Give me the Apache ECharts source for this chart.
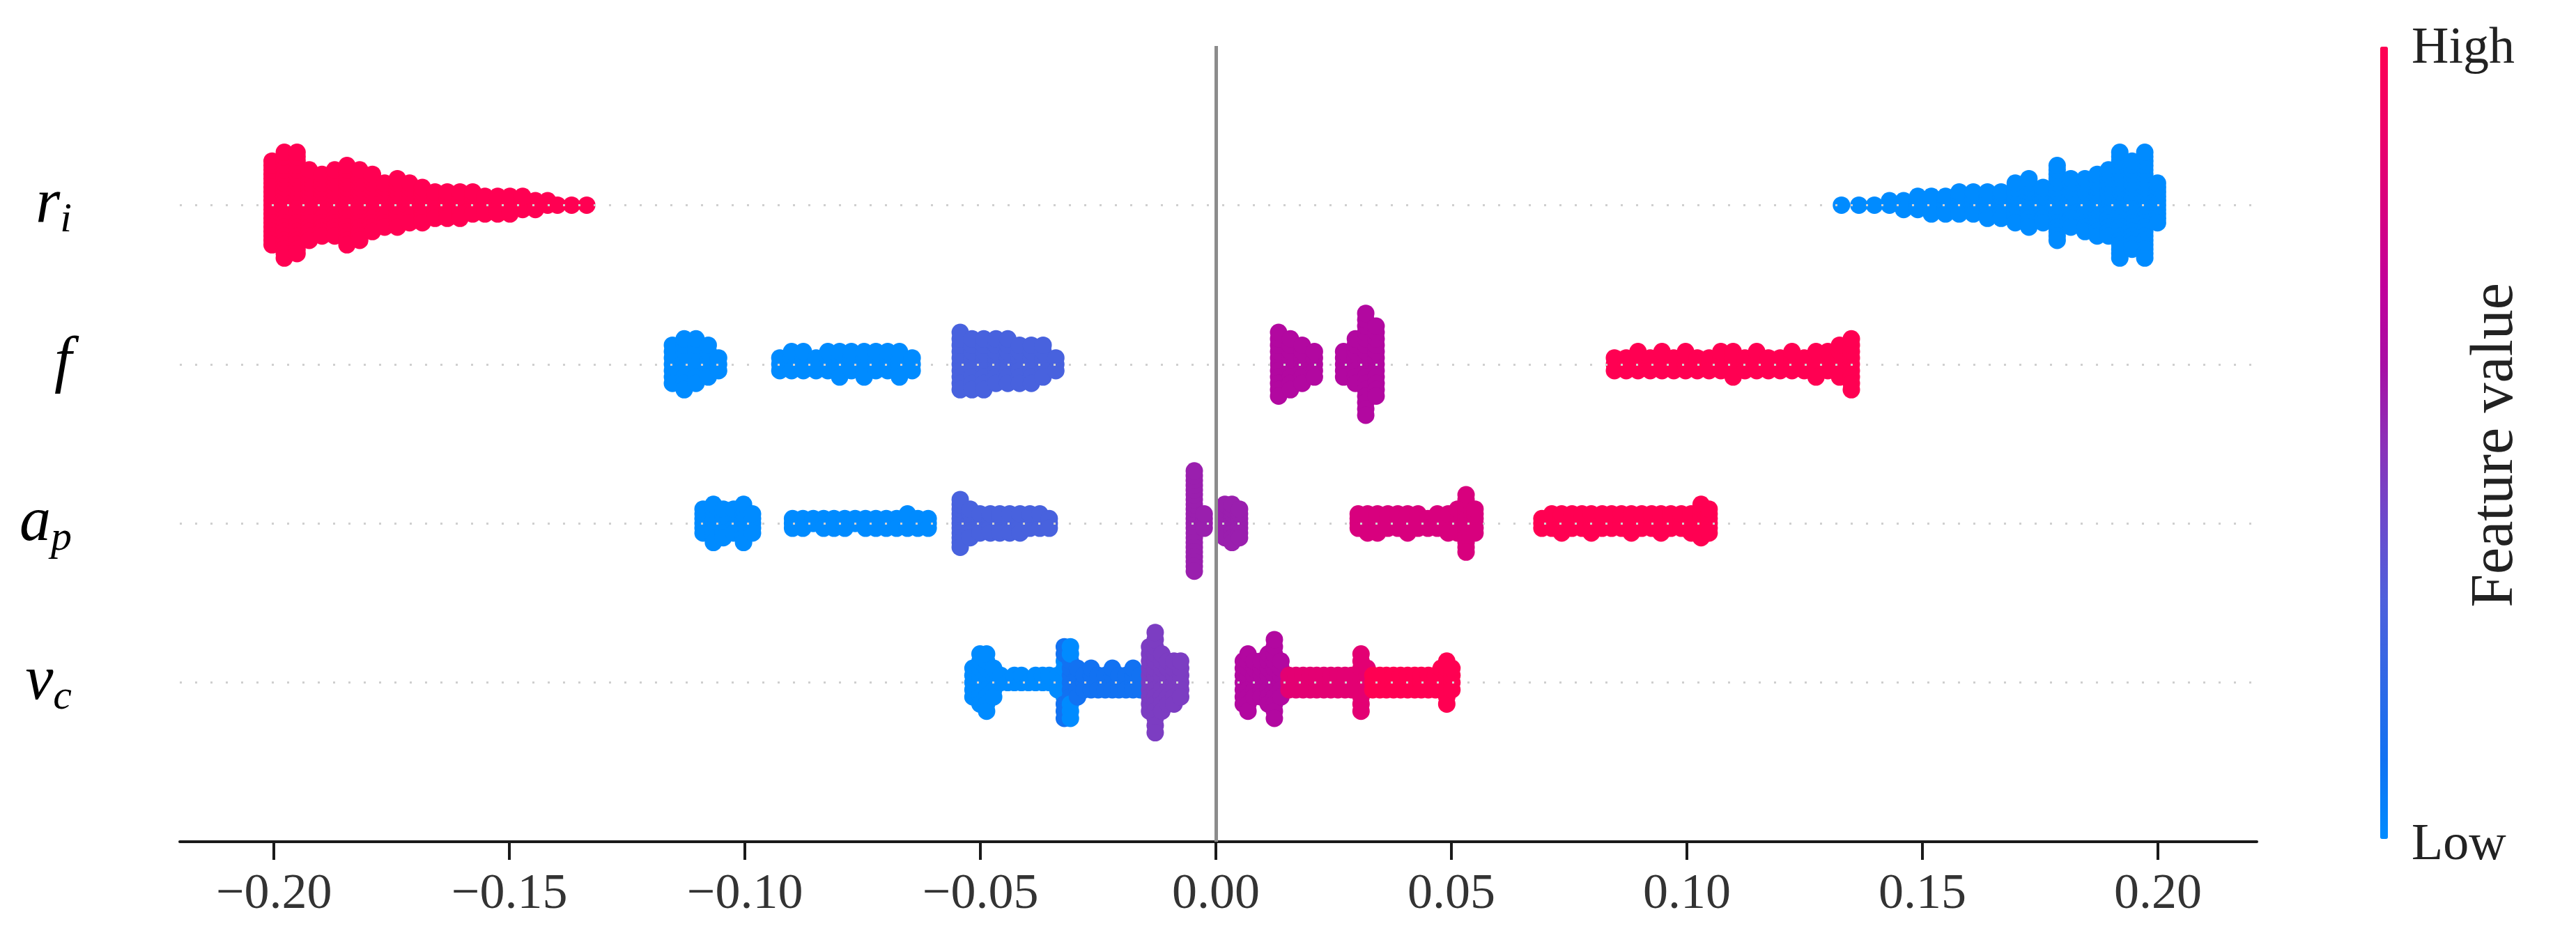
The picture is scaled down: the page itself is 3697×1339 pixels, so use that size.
<!DOCTYPE html>
<html>
<head>
<meta charset="utf-8">
<script src="https://cdn.jsdelivr.net/npm/echarts@6/dist/echarts.min.js"></script>
<style>
html,body{margin:0;padding:0;background:#fff;}
#chart{width:3697px;height:1339px;}
</style>
</head>
<body>
<div id="chart"></div>
<script>
// ---------------- DATA ----------------
// Row order on the y axis (value = row index): v_c=0, a_p=1, f=2, r_i=3
const featureLabels = ['{m|v}{s|c}', '{m|a}{s|p}', '{m|f}', '{m|r}{s|i}'];
const xTicks = [-0.20, -0.15, -0.10, -0.05, 0.00, 0.05, 0.10, 0.15, 0.20];

// r_i : SHAP value of each stacked column, number of samples in it, normalised feature value
const riShap = [-0.2004,-0.1978,-0.1951,-0.1925,-0.1898,-0.1871,-0.1845,-0.1818,-0.1791,-0.1765,-0.1738,-0.1712,-0.1685,-0.1658,-0.1632,-0.1605,-0.1578,-0.1552,-0.1525,-0.1499,-0.1472,-0.1445,-0.1419,-0.1398,-0.1368,-0.1336,
                0.1328,0.1365,0.1398,0.1430,0.1460,0.1490,0.1519,0.1549,0.1578,0.1608,0.1638,0.1667,0.1697,0.1726,0.1756,0.1786,0.1815,0.1845,0.1871,0.1895,0.1919,0.1945,0.1972,0.1999];
const riCount = [20,25,24,17,15,16,19,17,14,11,12,10,9,7,7,7,6,5,5,5,4,3,2,1,1,1,
                 1,1,1,2,3,4,5,5,6,6,7,7,10,12,9,18,12,13,15,16,25,21,25,10];
const riFeat  = [1,1,1,1,1,1,1,1,1,1,1,1,1,1,1,1,1,1,1,1,1,1,1,1,1,1,
                 0,0,0,0,0,0,0,0,0,0,0,0,0,0,0,0,0,0,0,0,0,0,0,0];

// f
const fShap = [-0.1154,-0.1129,-0.1104,-0.1078,-0.1056,
               -0.0926,-0.0901,-0.0876,-0.0849,-0.0824,-0.0799,-0.0774,-0.0747,-0.0722,-0.0697,-0.0672,-0.0645,
               -0.0543,-0.0518,-0.0493,-0.0467,-0.0442,-0.0417,-0.0392,-0.0367,-0.0340,
               0.0133,0.0158,0.0183,0.0209,
               0.0271,0.0296,0.0318,0.0340,
               0.0846,0.0871,0.0896,0.0922,0.0947,0.0972,0.0997,0.1022,0.1047,0.1072,0.1098,0.1123,0.1148,0.1173,0.1198,0.1223,0.1249,0.1274,0.1299,0.1324,0.1349];
const fCount = [7,9,8,6,3,
                3,4,4,3,4,5,4,5,4,4,5,3,
                10,9,9,8,8,7,7,6,3,
                11,9,7,5,
                5,8,17,12,
                3,3,4,3,4,3,4,3,3,4,5,3,4,3,3,4,3,5,4,6,9];
const fFeat = [0,0,0,0,0,
               0,0,0,0,0,0,0,0,0,0,0,0,
               0.28,0.28,0.28,0.28,0.28,0.28,0.28,0.28,0.28,
               0.64,0.64,0.64,0.64,
               0.64,0.64,0.64,0.64,
               1,1,1,1,1,1,1,1,1,1,1,1,1,1,1,1,1,1,1,1,1];

// a_p
const apShap = [-0.1089,-0.1067,-0.1046,-0.1024,-0.1003,-0.0984,
                -0.0899,-0.0877,-0.0855,-0.0833,-0.0811,-0.0788,-0.0766,-0.0744,-0.0722,-0.0700,-0.0678,-0.0655,-0.0633,-0.0611,
                -0.0543,-0.0522,-0.0501,-0.0479,-0.0459,-0.0438,-0.0416,-0.0395,-0.0374,-0.0354,
                -0.0046,-0.0025,0.0019,0.0034,0.0050,
                0.0302,0.0322,0.0343,0.0365,0.0386,0.0407,0.0429,0.0450,0.0470,0.0493,0.0513,0.0531,0.0550,
                0.0692,0.0713,0.0734,0.0756,0.0777,0.0797,0.0820,0.0840,0.0861,0.0882,0.0904,0.0925,0.0945,0.0966,0.0988,0.1009,0.1030,0.1047];
const apCount = [6,9,7,6,9,5,
                 3,3,2,3,3,3,2,3,3,3,3,4,3,3,
                 11,7,5,5,5,5,5,4,4,3,
                 22,4,8,9,7,
                 4,5,5,4,4,5,4,3,4,5,6,13,6,
                 3,4,5,4,4,5,4,4,4,5,4,4,5,4,4,5,8,6];
const apFeat = [0,0,0,0,0,0,
                0,0,0,0,0,0,0,0,0,0,0,0,0,0,
                0.28,0.28,0.28,0.28,0.28,0.28,0.28,0.28,0.28,0.28,
                0.55,0.55,0.55,0.55,0.55,
                0.8,0.8,0.8,0.8,0.8,0.8,0.8,0.8,0.8,0.8,0.8,0.8,0.8,
                1,1,1,1,1,1,1,1,1,1,1,1,1,1,1,1,1,1];

// v_c
const vcShap = [-0.0516,-0.0501,-0.0487,-0.0472,
                -0.0457,-0.0442,-0.0428,-0.0413,-0.0398,-0.0383,-0.0368,-0.0354,
                -0.0336,-0.0322,-0.0322,-0.0309,-0.0309,-0.0294,
                -0.0280,-0.0265,-0.0250,-0.0235,-0.0220,-0.0206,-0.0191,-0.0176,-0.0161,
                -0.0141,-0.0129,-0.0115,-0.0102,-0.0089,-0.0075,
                0.0058,0.0068,0.0081,0.0096,0.0111,0.0124,0.0138,
                0.0155,0.0170,0.0185,0.0200,0.0214,0.0229,0.0244,0.0259,0.0274,0.0288,0.0308,0.0321,
                0.0333,0.0348,0.0362,0.0377,0.0392,0.0407,0.0422,0.0436,0.0451,0.0466,0.0478,0.0490,0.0501];
const vcCount = [5,8,9,5,
                 2,1,2,2,1,2,2,2,
                 3,6,5,6,5,5,
                 3,4,3,3,4,3,3,4,3,
                 10,15,9,7,7,6,
                 7,9,6,6,8,12,6,
                 3,3,3,3,3,3,3,3,3,3,9,4,
                 3,3,3,3,3,3,3,3,3,3,4,7,4];
const vcFeat = [0,0,0,0,
                0,0,0,0,0,0,0,0,
                0,0,0.1,0.1,0,0.1,
                0.1,0.1,0.1,0.1,0.1,0.1,0.1,0.1,0.1,
                0.45,0.45,0.45,0.45,0.45,0.45,
                0.64,0.64,0.64,0.64,0.64,0.64,0.64,
                0.85,0.85,0.85,0.85,0.85,0.85,0.85,0.85,0.85,0.85,0.85,0.85,
                1,1,1,1,1,1,1,1,1,1,1,1,1];

const colorStops = ['#008BFF','#1272F2','#3068E6','#4E60DC','#6C4ACC','#8C30B8','#A80EA4','#C2009A','#D8007E','#EE0068','#FF0052'];

// ---------------- beeswarm layout (SHAP style stacking) ----------------
function buildRow(shap, count, feat, rowY) {
  const pts = [];
  shap.forEach((x, i) => { for (let k = 0; k < count[i]; k++) pts.push({x: x, f: feat[i]}); });
  const layerOf = new Map();
  pts.forEach(p => { const l = layerOf.get(p.x) || 0; p.l = l; layerOf.set(p.x, l + 1); });
  pts.forEach(p => { p.ys = Math.ceil(p.l / 2) * ((p.l % 2) * 2 - 1); });
  const maxYs = Math.max.apply(null, pts.map(p => p.ys + 1));
  const s = 0.9 * (0.4 / maxYs);
  return pts.map(p => [p.x, rowY + p.ys * s, p.f]);
}
const points = [].concat(
  buildRow(vcShap, vcCount, vcFeat, 0),
  buildRow(apShap, apCount, apFeat, 1),
  buildRow(fShap, fCount, fFeat, 2),
  buildRow(riShap, riCount, riFeat, 3)
);

function fmtTick(v) {
  const s = Math.abs(v).toFixed(2);
  return v < -1e-9 ? '\u2212' + s : s;
}

const chart = echarts.init(document.getElementById('chart'), null, {renderer: 'canvas'});
chart.setOption({
  animation: false,
  backgroundColor: '#ffffff',
  grid: {left: 258, right: 458, top: 66, bottom: 131, containLabel: false},
  xAxis: {
    type: 'value', min: -0.22, max: 0.221,
    axisLine: {show: true, onZero: false, lineStyle: {color: '#1a1a1a', width: 4}},
    axisTick: {show: true, length: 26, lineStyle: {color: '#1a1a1a', width: 4}, customValues: xTicks},
    axisLabel: {customValues: xTicks, formatter: fmtTick, margin: 40, fontFamily: 'Liberation Serif', fontSize: 72, color: '#333333'},
    splitLine: {show: false}
  },
  yAxis: {
    type: 'value', min: -1, max: 4, interval: 1,
    axisLine: {show: false}, axisTick: {show: false}, splitLine: {show: false},
    axisLabel: {
      margin: 155,
      formatter: function (v) { return (v >= 0 && v <= 3) ? featureLabels[v] : ''; },
      rich: {
        m: {fontFamily: 'Liberation Serif', fontStyle: 'italic', fontSize: 90, color: '#000'},
        s: {fontFamily: 'Liberation Serif', fontStyle: 'italic', fontSize: 60, color: '#000', padding: [44, 0, 0, 0]}
      }
    }
  },
  visualMap: {
    type: 'continuous', min: 0, max: 1, dimension: 2, seriesIndex: 0,
    orient: 'vertical', left: 3416, top: 67, itemWidth: 11, itemHeight: 1137,
    calculable: false, hoverLink: false, padding: 0, text: null,
    inRange: {color: colorStops}
  },
  graphic: [
    {type: 'text', left: 3461, top: 72 - 38, style: {text: 'High', font: '74px "Liberation Serif"', fill: '#222'}},
    {type: 'text', left: 3461, top: 1215 - 38, style: {text: 'Low', font: '74px "Liberation Serif"', fill: '#222'}},
    {type: 'text', x: 3582, y: 639, rotation: Math.PI / 2,
     style: {text: 'Feature value', font: '86px "Liberation Serif"', fill: '#222', align: 'center', verticalAlign: 'middle'}}
  ],
  series: [
    {
      type: 'scatter', data: points, symbol: 'circle', symbolSize: 25, z: 3,
      itemStyle: {opacity: 1, borderWidth: 0}, silent: true, progressive: 0
    },
    {
      type: 'line', data: [], z: 1, silent: true,
      markLine: {
        silent: true, symbol: ['none', 'none'], label: {show: false},
        lineStyle: {color: '#cfcfcf', width: 3, type: [3, 19]},
        data: [{yAxis: 0}, {yAxis: 1}, {yAxis: 2}, {yAxis: 3}]
      }
    },
    {
      type: 'line', data: [], z: 5, silent: true,
      markLine: {
        silent: true, symbol: ['none', 'none'], label: {show: false},
        lineStyle: {color: '#8c8c8c', width: 5, type: 'solid'},
        data: [{xAxis: 0}]
      }
    }
  ]
});
</script>
</body>
</html>
